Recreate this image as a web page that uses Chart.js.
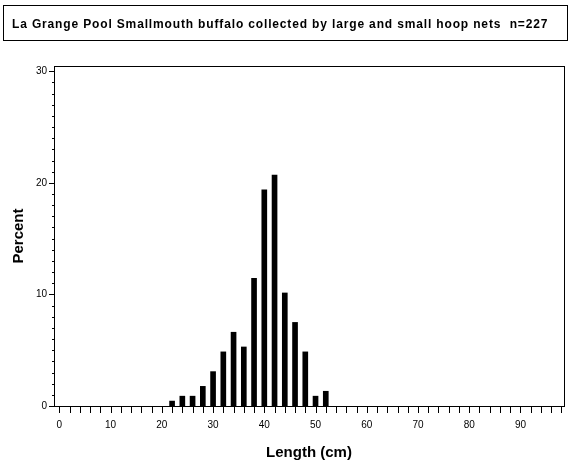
<!DOCTYPE html>
<html><head><meta charset="utf-8">
<script src="https://cdn.jsdelivr.net/npm/chart.js@4.4.0/dist/chart.umd.min.js"></script>
<style>html,body{margin:0;padding:0;background:#fff;overflow:hidden}#wrap{position:relative;width:570px;height:475px}</style>
</head><body><div id="wrap"><canvas id="c" width="570" height="475"></canvas></div>
<script>
const chartTitle = 'La Grange Pool Smallmouth buffalo collected by large and small hoop nets  n=227';
const xAxisTitle = 'Length (cm)';
const yAxisTitle = 'Percent';
const lengthCm = [22, 24, 26, 28, 30, 32, 34, 36, 38, 40, 42, 44, 46, 48, 50, 52];
const percent  = [0.44, 0.88, 0.88, 1.76, 3.08, 4.85, 6.61, 5.29, 11.45, 19.38, 20.70, 10.13, 7.49, 4.85, 0.88, 1.32];
const xLabelValues = [0, 10, 20, 30, 40, 50, 60, 70, 80, 90];
const yLabelValues = [0, 10, 20, 30];

const FONT = "'Liberation Sans', Arial, Helvetica, sans-serif";
const xTickVals = []; for (let v = 0; v <= 98; v += 2) xTickVals.push(v);
const yTickVals = []; for (let v = 0; v <= 30; v += 1) yTickVals.push(v);

const decor = {
  id: 'decor',
  afterDraw(chart) {
    const ctx = chart.ctx, a = chart.chartArea;
    const xs = chart.scales.x, ys = chart.scales.y;
    ctx.save();
    ctx.strokeStyle = '#000'; ctx.lineWidth = 1;
    ctx.strokeRect(a.left + 0.5, a.top + 0.5, a.right - a.left, a.bottom - a.top);
    ctx.beginPath();
    xTickVals.forEach(v => {
      const px = Math.round(xs.getPixelForValue(v)) + 0.5;
      ctx.moveTo(px, a.bottom); ctx.lineTo(px, a.bottom + 7);
    });
    yTickVals.forEach(v => {
      const py = Math.round(ys.getPixelForValue(v)) + 0.5;
      const major = yLabelValues.includes(v);
      ctx.moveTo(a.left, py); ctx.lineTo(a.left - (major ? 5 : 2), py);
    });
    ctx.stroke();
    ctx.strokeRect(3.5, 5.5, 564, 35);
    ctx.fillStyle = '#000';
    ctx.font = 'bold 12px ' + FONT;
    try { ctx.letterSpacing = '0.85px'; } catch (e) {}
    ctx.textBaseline = 'alphabetic'; ctx.textAlign = 'left';
    ctx.fillText(chartTitle, 12, 28);
    ctx.restore();
  }
};

new Chart(document.getElementById('c'), {
  type: 'bar',
  data: { datasets: [{
    data: lengthCm.map((x, i) => ({ x: x, y: percent[i] })),
    backgroundColor: '#000', borderWidth: 0, barThickness: 5
  }]},
  options: {
    responsive: false, animation: false, devicePixelRatio: 1,
    layout: { autoPadding: false, padding: { top: 66, right: 6, left: 0, bottom: 0 } },
    plugins: { legend: { display: false }, tooltip: { enabled: false }, title: { display: false } },
    scales: {
      x: {
        type: 'linear', min: -1.05, max: 98.5, offset: false,
        afterBuildTicks: s => { s.ticks = xTickVals.map(v => ({ value: v })); },
        afterFit: s => { s.height = 69; s.paddingLeft = 0; s.paddingRight = 0; s.paddingTop = 0; s.paddingBottom = 0; },
        ticks: { autoSkip: false, maxRotation: 0, minRotation: 0, padding: 13, color: '#000',
          font: { family: FONT, size: 10 },
          callback: v => xLabelValues.includes(v) ? String(v) : '' },
        grid: { display: false, drawTicks: false }, border: { display: false },
        title: { display: true, text: xAxisTitle, color: '#000',
          font: { family: FONT, size: 15, weight: 'bold' }, padding: { top: 0, bottom: 13 } }
      },
      y: {
        min: 0, max: 30.47,
        afterBuildTicks: s => { s.ticks = yTickVals.map(v => ({ value: v })); },
        afterFit: s => { s.width = 54; s.paddingLeft = 0; s.paddingRight = 0; s.paddingTop = 0; s.paddingBottom = 0; },
        ticks: { autoSkip: false, padding: 7, color: '#000',
          font: { family: FONT, size: 10 },
          callback: v => yLabelValues.includes(v) ? String(v) : '' },
        grid: { display: false, drawTicks: false }, border: { display: false },
        title: { display: true, text: yAxisTitle, color: '#000',
          font: { family: FONT, size: 15, weight: 'bold' }, padding: { top: 9.5, bottom: 0 } }
      }
    }
  },
  plugins: [decor]
});
</script></body></html>
